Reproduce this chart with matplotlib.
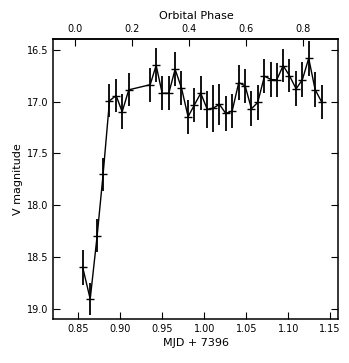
import matplotlib
matplotlib.use("Agg")
import matplotlib.pyplot as plt

# Observations (MJD offset from 7396) and V magnitudes
mjd = [0.8551, 0.8640, 0.8723, 0.8794, 0.8870, 0.8949, 0.9021, 0.9100,
       0.9355, 0.9426, 0.9498, 0.9577, 0.9652, 0.9728, 0.9807, 0.9883,
       0.9958, 1.0036, 1.0105, 1.0181, 1.0256, 1.0332, 1.0411, 1.0487,
       1.0562, 1.0637, 1.0717, 1.0797, 1.0864, 1.0940, 1.1015, 1.1095,
       1.1170, 1.1245, 1.1321, 1.1400]
vmag = [18.600, 18.905, 18.293, 17.700, 16.993, 16.942, 17.099, 16.887,
        16.838, 16.651, 16.920, 16.920, 16.689, 16.868, 17.147, 17.031,
        16.920, 17.076, 17.064, 17.028, 17.115, 17.093, 16.817, 16.849,
        17.070, 17.009, 16.756, 16.788, 16.791, 16.654, 16.750, 16.878,
        16.788, 16.583, 16.884, 17.006]
verr = [0.165, 0.155, 0.160, 0.160, 0.160, 0.160, 0.170, 0.160,
        0.165, 0.163, 0.165, 0.165, 0.163, 0.165, 0.163, 0.165,
        0.165, 0.180, 0.227, 0.200, 0.170, 0.163, 0.165, 0.163,
        0.168, 0.170, 0.165, 0.165, 0.165, 0.160, 0.160, 0.168,
        0.168, 0.168, 0.165, 0.166]

# Ephemeris for the orbital-phase axis
T0 = 0.8464
PERIOD = 0.3385
phase_ticks = [0.0, 0.2, 0.4, 0.6, 0.8]
mjd_ticks = [0.85, 0.90, 0.95, 1.00, 1.05, 1.10, 1.15]
mag_ticks = [16.5, 17.0, 17.5, 18.0, 18.5, 19.0]

plt.rcParams['font.family'] = ['DejaVu Sans']

fig = plt.figure(figsize=(3.49, 3.63), dpi=100)
ax = fig.add_axes([0.1527, 0.1204, 0.8172, 0.7713])

ax.errorbar(mjd, vmag, yerr=verr, fmt='-', color='black', lw=1.0,
            elinewidth=1.3, capsize=0, marker='_', ms=6, mew=1.0)

ax.set_xlim(0.82, 1.16)
ax.set_ylim(19.1, 16.4)
ax.set_xticks(mjd_ticks)
ax.set_xticklabels([f"{t:.2f}" for t in mjd_ticks])
ax.set_yticks(mag_ticks)
ax.set_yticklabels([f"{t:.1f}" for t in mag_ticks])
ax.tick_params(direction='in', length=5, width=0.8, labelsize=7,
               left=True, right=True, bottom=True, top=False)
ax.set_xlabel("MJD + 7396", fontsize=8, labelpad=3)
ax.set_ylabel("V magnitude", fontsize=8, labelpad=3)
for s in ax.spines.values():
    s.set_linewidth(1.1)

sec = ax.secondary_xaxis('top', functions=(lambda x: (x - T0) / PERIOD,
                                           lambda p: p * PERIOD + T0))
sec.set_xticks(phase_ticks)
sec.set_xticklabels([f"{t:.1f}" for t in phase_ticks])
sec.tick_params(direction='in', length=5, width=0.8, labelsize=7)
sec.set_xlabel("Orbital Phase", fontsize=8, labelpad=4)
sec.spines['top'].set_linewidth(1.1)

fig.savefig("out.png", dpi=100)
